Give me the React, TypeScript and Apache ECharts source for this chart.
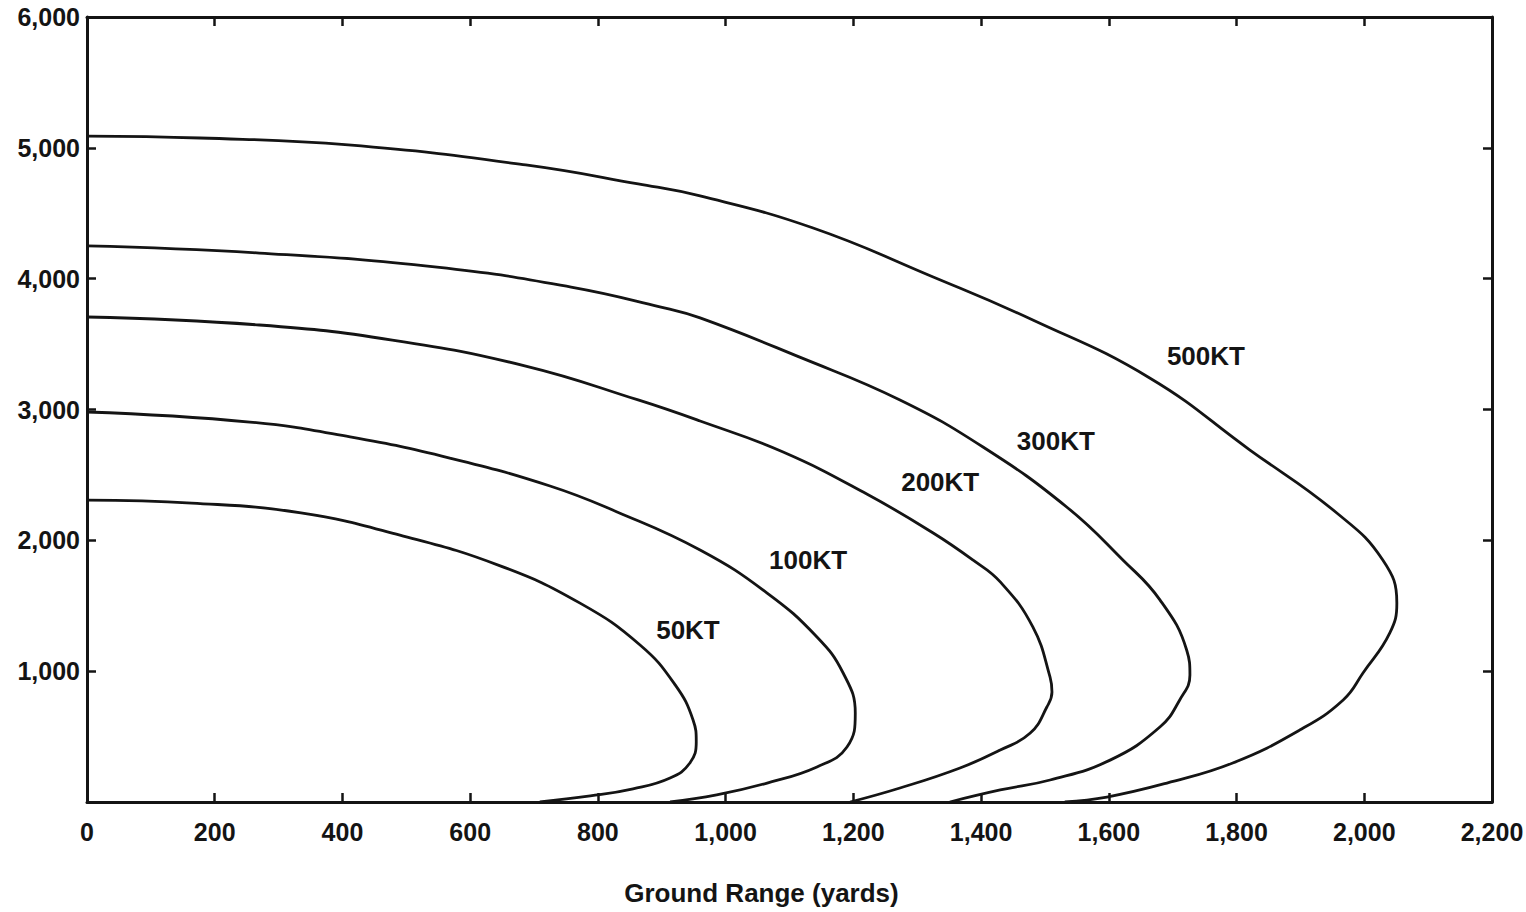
import React, { useEffect, useRef } from "react";
import * as echarts from "echarts";

// Ground range (yards) vs height values, per yield
const kt50: number[][] = [
  [0, 2308], [164, 2285], [335, 2210], [490, 2040], [647, 1805], [772, 1520],
  [866, 1200], [921, 895], [949, 627], [954, 460], [944, 298], [913, 183],
  [855, 100], [788, 46], [709, 0],
];
const kt100: number[][] = [
  [0, 2981], [255, 2904], [412, 2790], [568, 2629], [725, 2415], [830, 2217],
  [960, 1926], [1065, 1597], [1143, 1261], [1184, 986], [1203, 680], [1190, 420],
  [1143, 268], [1065, 145], [986, 54], [913, 0],
];
const kt200: number[][] = [
  [0, 3707], [270, 3646], [478, 3531], [687, 3332], [863, 3073], [960, 2912],
  [1090, 2675], [1221, 2354], [1325, 2056], [1387, 1850], [1430, 1682], [1481, 1338],
  [1508, 955], [1511, 840], [1503, 726], [1477, 527], [1430, 397], [1367, 260],
  [1273, 107], [1195, 0],
];
const kt300: number[][] = [
  [0, 4250], [270, 4196], [548, 4089], [758, 3936], [897, 3785], [960, 3700],
  [1116, 3400], [1273, 3073], [1403, 2713], [1534, 2255], [1622, 1850], [1680, 1545],
  [1722, 1160], [1727, 970], [1711, 780], [1680, 573], [1602, 320], [1508, 168],
  [1430, 92], [1351, 0],
];
const kt500: number[][] = [
  [0, 5090], [177, 5075], [409, 5022], [687, 4869], [863, 4724], [960, 4632],
  [1137, 4387], [1325, 4013], [1481, 3684], [1664, 3241], [1821, 2690], [1957, 2209],
  [2029, 1850], [2051, 1521], [2040, 1292], [1998, 986], [1967, 780], [1899, 550],
  [1794, 298], [1691, 145], [1597, 38], [1531, 0],
];

const curveNames = ["50KT", "100KT", "200KT", "300KT", "500KT"];
const curveData = [kt50, kt100, kt200, kt300, kt500];
// label anchor (range, height) for each curve's text
const labelCoords: number[][] = [
  [941, 1315], [1129, 1850], [1336, 2446], [1517, 2759], [1752, 3409],
];

const xMin = 0, xMax = 2200, xStep = 200;
const yMin = 0, yMax = 6000, yStep = 1000;
const xAxisTitle = "Ground Range (yards)";

const FONT = "'Liberation Sans', Arial, Helvetica, sans-serif";
const INK = "#141414";

const fmt = (v: number) => v.toLocaleString("en-US");

export default function App() {
  const ref = useRef<HTMLDivElement>(null);
  useEffect(() => {
    if (!ref.current) return;
    const chart = echarts.init(ref.current, null, { renderer: "svg" });
    const axisLine = { show: true, onZero: false, lineStyle: { color: INK, width: 3 } };
    const axisTick = { show: true, inside: true, length: 9, lineStyle: { color: INK, width: 2.5 } };
    chart.setOption({
      animation: false,
      backgroundColor: "#ffffff",
      grid: { left: 87, right: 34, top: 17, bottom: 110, containLabel: false, outerBoundsMode: "none" },
      xAxis: [
        {
          type: "value", min: xMin, max: xMax, interval: xStep, position: "bottom",
          axisLine, axisTick, splitLine: { show: false },
          axisLabel: {
            formatter: (v: number) => fmt(v), fontSize: 25, fontWeight: "bold",
            fontFamily: FONT, color: INK, margin: 17,
          },
          name: xAxisTitle, nameLocation: "middle", nameGap: 78,
          nameTextStyle: { fontSize: 26, fontWeight: "bold", fontFamily: FONT, color: INK, padding: [0, 56, 0, 0] },
        },
        {
          type: "value", min: xMin, max: xMax, interval: xStep, position: "top",
          axisLine, axisTick, splitLine: { show: false }, axisLabel: { show: false },
        },
      ],
      yAxis: [
        {
          type: "value", min: yMin, max: yMax, interval: yStep, position: "left",
          axisLine, axisTick, splitLine: { show: false },
          axisLabel: {
            formatter: (v: number) => (v === 0 ? "" : fmt(v)), fontSize: 25, fontWeight: "bold",
            fontFamily: FONT, color: INK, margin: 7,
          },
        },
        {
          type: "value", min: yMin, max: yMax, interval: yStep, position: "right",
          axisLine, axisTick, splitLine: { show: false }, axisLabel: { show: false },
        },
      ],
      series: curveData.map((d, i) => ({
        name: curveNames[i],
        type: "line",
        xAxisIndex: 0,
        yAxisIndex: 0,
        data: d,
        smooth: 0.45,
        showSymbol: false,
        symbol: "none",
        lineStyle: { color: INK, width: 2.8 },
        markPoint: {
          symbol: "circle",
          symbolSize: 0,
          data: [{ coord: labelCoords[i], value: curveNames[i] }],
          label: {
            show: true, position: "inside", formatter: curveNames[i],
            fontSize: 26, fontWeight: "bold", fontFamily: FONT, color: INK,
          },
        },
      })),
    });
    return () => chart.dispose();
  }, []);
  return (
    <div
      ref={ref}
      style={{ position: "absolute", left: 0, top: 0, width: 1526, height: 912, background: "#fff" }}
    />
  );
}
